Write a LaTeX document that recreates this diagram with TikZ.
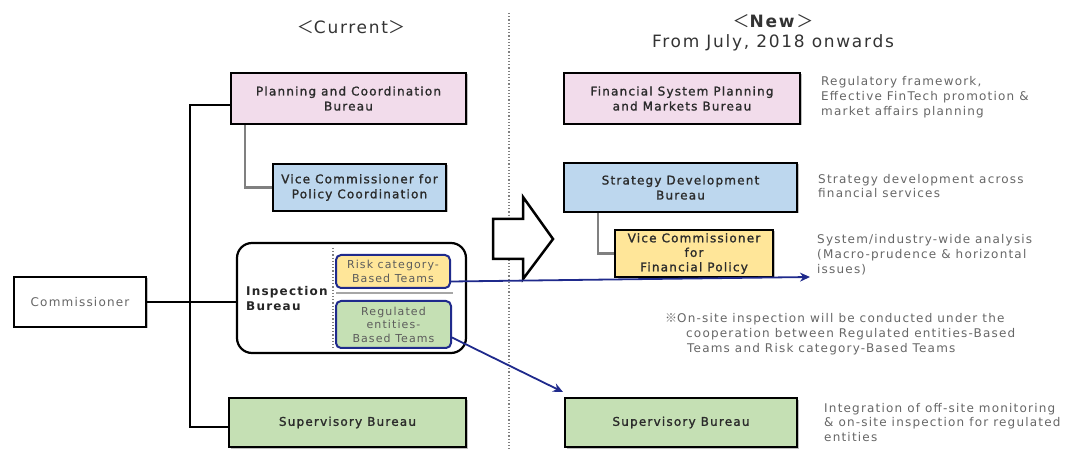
\documentclass[tikz,border=0pt]{standalone}
\usepackage{fontspec}
\setmainfont{DejaVu Sans}
\newfontfamily\df{DejaVu Sans}[LetterSpace=10]
\newfontfamily\dfb{DejaVu Sans}[LetterSpace=10,FakeBold=1.4]
\newfontfamily\cjk{Noto Sans CJK JP}
\usetikzlibrary{arrows.meta,shadows}
\definecolor{pinkf}{HTML}{F2DCEB}
\definecolor{bluef}{HTML}{BDD7EE}
\definecolor{yelf}{HTML}{FFE699}
\definecolor{greenf}{HTML}{C5E0B4}
\definecolor{navy}{HTML}{1F2A8C}
\definecolor{txtgray}{HTML}{666666}
\definecolor{boxtxt}{HTML}{2B2B2B}
\tikzset{
  bureau/.style={draw=black, fill=white, line width=2.5pt, font=\dfb\fontsize{12}{15}\selectfont, text=boxtxt, align=center, inner sep=0pt,
    drop shadow={shadow xshift=1.5pt, shadow yshift=-1.5pt, fill=black, opacity=0.25}},
  team/.style={draw=navy, line width=2pt, rounded corners=5pt, font=\df\fontsize{11}{13.5}\selectfont, text=txtgray!90!black, align=center, inner sep=0pt},
  desc/.style={anchor=west, inner sep=0pt, align=left, font=\df\fontsize{12}{14.8}\selectfont, text=txtgray},
  header/.style={inner sep=0pt, font=\df\fontsize{17}{20}\selectfont, text=black!80},
  conn/.style={line width=2pt, draw=black},
  subconn/.style={line width=2.2pt, draw=gray},
  navyarrow/.style={draw=navy, line width=1.8pt, -{Stealth[length=10pt,width=9pt]}},
}
\begin{document}
\begin{tikzpicture}[x=1pt,y=-1pt]
\useasboundingbox (0,0) rectangle (1088,449);
% divider
\draw[gray, dotted, line width=1.2pt] (509,13) -- (509,449);
% headers
\node[header] (hcur) at (351,27) {{\cjk ＜}Current{\cjk ＞}};
\node[header] (hnew) at (773,21) {{\cjk ＜}\textbf{New}{\cjk ＞}};
\node[header] (hfrom) at (773,43) {From July, 2018 onwards};
% current side
\node[bureau, line width=2pt, font=\df\fontsize{12}{15}\selectfont, text=txtgray, minimum width=132, minimum height=50] (comm) at (80,302) {Commissioner};
\node[bureau, fill=pinkf, minimum width=235, minimum height=51] (plan) at (348.5,98.5) {Planning and Coordination\\Bureau};
\node[bureau, fill=bluef, minimum width=173, minimum height=47] (vpc) at (359.5,187.5) {Vice Commissioner for\\Policy Coordination};
\node[draw, line width=2.2pt, rounded corners=15pt, minimum width=229, minimum height=110] (insp) at (351.5,298) {};
\node[anchor=west, inner sep=0pt, align=left, font=\df\bfseries\fontsize{12}{15}\selectfont, text=black!85] (insptxt) at (246,299) {Inspection\\Bureau};
\draw[gray, dotted, line width=1.2pt] (333,248) -- (333,350);
\draw[gray!70, line width=1.2pt] (336,293) -- (453,293);
\node[team, fill=yelf, minimum width=114, minimum height=33] (risk) at (393,271.5) {Risk category-\\Based Teams};
\node[team, fill=greenf, minimum width=115, minimum height=47] (reg) at (393.5,324.5) {Regulated\\entities-\\Based Teams};
\node[bureau, fill=greenf, minimum width=237, minimum height=49] (supc) at (347.5,422.5) {Supervisory Bureau};
% trunk
\coordinate (t1) at (190,105);
\coordinate (t2) at (190,427);
\draw[conn] ([yshift=-6.5pt]plan.west) -- (t1) -- (t2) -- (t2 -| supc.west);
\draw[conn] (comm.east) -- (comm.east -| insp.west);
\draw[subconn] (plan.south -| 245,0) |- (vpc.west);
% hollow arrow
\draw[line width=2.5pt, fill=white, line join=miter] (493,219) -- (523,219) -- (523,197) -- (553,239) -- (523,279) -- (523,259) -- (493,259) -- cycle;
% new side
\node[bureau, fill=pinkf, minimum width=236, minimum height=51] (fsp) at (682,98.5) {Financial System Planning\\and Markets Bureau};
\node[bureau, fill=bluef, minimum width=233, minimum height=49] (sdb) at (680.5,187.5) {Strategy Development\\Bureau};
\node[bureau, fill=yelf, minimum width=158, minimum height=47, font=\dfb\fontsize{12}{14.5}\selectfont] (vfp) at (694,253.5) {Vice Commissioner\\for\\Financial Policy};
\node[bureau, fill=greenf, minimum width=232, minimum height=49] (supn) at (681,422.5) {Supervisory Bureau};
\draw[subconn] (sdb.south -| 598,0) |- (vfp.west);
% descriptions
\node[desc] (d1) at (821,97) {Regulatory framework,\\Effective FinTech promotion \&\\market affairs planning};
\node[desc] (d2) at (818,186) {Strategy development across\\financial services};
\node[desc] (d3) at (817,254.5) {System/industry-wide analysis\\(Macro-prudence \& horizontal\\issues)};
\node[desc] (d4) at (665,334) {{\cjk ※}On-site inspection will be conducted under the\\\hspace*{21pt}cooperation between Regulated entities-Based\\\hspace*{22pt}Teams and Risk category-Based Teams};
\node[desc] (d5) at (824,422.5) {Integration of off-site monitoring\\\& on-site inspection for regulated\\entities};
% blue arrows
\coordinate (a1end) at (810,277);
\coordinate (a2end) at (563,392);
\draw[navyarrow] ([yshift=-10pt]risk.east) -- (a1end);
\draw[navyarrow] ([yshift=-13pt]reg.east) -- (a2end);
\end{tikzpicture}
\end{document}
